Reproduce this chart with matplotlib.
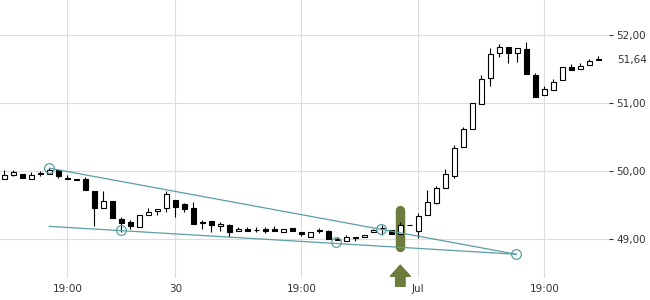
import matplotlib
matplotlib.use("Agg")
import matplotlib.pyplot as plt
from matplotlib.patches import Rectangle

# ---- data ----
opens = [49.89, 49.95, 49.965, 49.89, 49.975, 49.955, 50.015, 49.90, 49.885, 49.89,
         49.705, 49.46, 49.565, 49.305, 49.25, 49.18, 49.35, 49.42, 49.465, 49.575,
         49.515, 49.465, 49.25, 49.265, 49.19, 49.215, 49.12, 49.145, 49.14, 49.145,
         49.145, 49.11, 49.17, 49.10, 49.04, 49.14, 49.12, 49.01, 48.97, 49.035,
         49.03, 49.10, 49.17, 49.13, 49.085, 49.21, 49.12, 49.35, 49.535, 49.76,
         49.935, 50.35, 50.615, 50.99, 51.365, 51.73, 51.83, 51.73, 51.795, 51.41,
         51.12, 51.20, 51.34, 51.535, 51.50, 51.56, 51.655]
highs = [50.015, 50.02, 49.965, 49.99, 50.00, 50.05, 50.015, 49.94, 49.885, 49.91,
         49.705, 49.705, 49.565, 49.33, 49.29, 49.36, 49.465, 49.45, 49.705, 49.575,
         49.53, 49.545, 49.28, 49.265, 49.255, 49.23, 49.185, 49.185, 49.175, 49.175,
         49.19, 49.155, 49.17, 49.10, 49.105, 49.165, 49.13, 49.04, 49.06, 49.035,
         49.07, 49.155, 49.205, 49.14, 49.25, 49.21, 49.39, 49.72, 49.78, 50.035,
         50.38, 50.65, 50.995, 51.41, 51.805, 51.865, 51.83, 51.81, 51.90, 51.45,
         51.25, 51.35, 51.525, 51.575, 51.585, 51.645, 51.69]
lows = [49.89, 49.925, 49.895, 49.89, 49.93, 49.955, 49.90, 49.885, 49.875, 49.73,
        49.195, 49.46, 49.32, 49.10, 49.145, 49.18, 49.35, 49.36, 49.40, 49.33,
        49.40, 49.225, 49.155, 49.11, 49.12, 49.035, 49.12, 49.12, 49.10, 49.095,
        49.12, 49.11, 49.12, 49.05, 49.04, 49.09, 49.01, 48.99, 48.97, 48.97,
        49.03, 49.10, 49.06, 49.08, 49.085, 49.205, 49.02, 49.35, 49.525, 49.75,
        49.905, 50.35, 50.615, 50.99, 51.255, 51.685, 51.585, 51.60, 51.435, 51.095,
        51.12, 51.20, 51.34, 51.485, 51.50, 51.56, 51.64]
closes = [49.95, 49.99, 49.895, 49.95, 49.96, 50.015, 49.925, 49.89, 49.875, 49.73,
          49.46, 49.565, 49.32, 49.24, 49.195, 49.36, 49.395, 49.45, 49.67, 49.475,
          49.445, 49.225, 49.245, 49.205, 49.23, 49.105, 49.145, 49.12, 49.135, 49.125,
          49.12, 49.155, 49.12, 49.08, 49.105, 49.12, 49.01, 48.99, 49.03, 49.02,
          49.07, 49.13, 49.165, 49.08, 49.205, 49.205, 49.345, 49.555, 49.76, 49.965,
          50.335, 50.62, 50.995, 51.355, 51.715, 51.83, 51.73, 51.805, 51.435, 51.095,
          51.215, 51.315, 51.525, 51.485, 51.55, 51.62, 51.64]

xtick_pos = [7, 19, 33, 46, 60]
xtick_labels = ["19:00", "30", "19:00", "Jul", "19:00"]
ytick_vals = [49, 50, 51, 52]
ytick_labels = ["49,00", "50,00", "51,00", "52,00"]
last_price = 51.64
last_label = "51,64"

# trend lines (index, price)
upper_line_x = [5, 56.9]
upper_line_y = [50.044, 48.78]
lower_line_x = [5, 56.9]
lower_line_y = [49.19, 48.78]
touch_x = [5, 13, 36.9, 41.9, 56.9]
touch_y = [50.044, 49.132, 48.956, 49.147, 48.78]

signal_idx = 44
signal_band = [48.882, 49.426]
arrow_tip = 48.62
arrow_tail = 48.31

teal = "#5a9fa3"
olive = "#6b7c3c"

fig = plt.figure(figsize=(6.5, 3.0), dpi=100)
ax = fig.add_axes([0.0, 0.073, 0.937, 0.927])

n = len(opens)
w = 0.6
for i in range(n):
    o, h, l, c = opens[i], highs[i], lows[i], closes[i]
    ax.vlines(i, l, h, color="black", lw=0.8, zorder=3)
    up = c >= o
    bottom = min(o, c)
    height = max(abs(c - o), 0.004)
    ax.add_patch(Rectangle((i - w / 2, bottom), w, height,
                           facecolor="white" if up else "black",
                           edgecolor="black", lw=0.8, zorder=4))

# highlight band
ax.plot([signal_idx, signal_idx], signal_band, color=olive, lw=6.8,
        solid_capstyle="round", zorder=2)
ax.annotate("", xy=(signal_idx, arrow_tip), xytext=(signal_idx, arrow_tail),
            arrowprops=dict(arrowstyle="simple,head_length=1.0,head_width=1.8,tail_width=0.85",
                            mutation_scale=8, color=olive, shrinkA=0, shrinkB=0),
            annotation_clip=False, zorder=5)

# trend lines
ax.plot(upper_line_x, upper_line_y, color=teal, lw=0.9, zorder=5)
ax.plot(lower_line_x, lower_line_y, color=teal, lw=0.9, zorder=5)
ax.plot(touch_x, touch_y, linestyle="none", marker="o", markersize=7,
        markerfacecolor="none", markeredgecolor=teal, markeredgewidth=0.9, zorder=6)

ax.set_xlim(-0.48, 67.19)
ax.set_ylim(48.43, 52.515)

for s in ax.spines.values():
    s.set_visible(False)

ax.set_xticks(xtick_pos)
ax.set_xticklabels(xtick_labels)
ax.set_yticks(ytick_vals)
ax.set_yticklabels(ytick_labels)
ax.yaxis.tick_right()
ax.tick_params(axis="x", length=0, pad=4, labelsize=7.5, colors="#333333")
ax.tick_params(axis="y", length=3, width=0.8, pad=2, labelsize=7.5, colors="#333333")
ax.grid(True, color="#dddddd", lw=0.8, zorder=0)
ax.set_axisbelow(True)

ax.annotate(last_label, xy=(1.0, last_price), xycoords=("axes fraction", "data"),
            xytext=(8, 0), textcoords="offset pixels", va="center", ha="left",
            fontsize=7.5, color="#333333", annotation_clip=False)

fig.savefig("out.png", dpi=100)
